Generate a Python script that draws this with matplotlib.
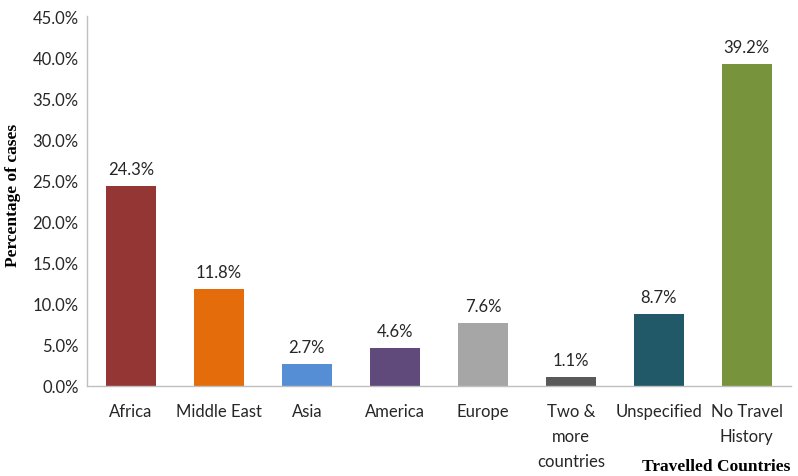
import matplotlib.pyplot as plt
from matplotlib.ticker import PercentFormatter

# data
categories = ["Africa", "Middle East", "Asia", "America", "Europe",
              "Two &\nmore\ncountries", "Unspecified", "No Travel\nHistory"]
values = [24.3, 11.8, 2.7, 4.6, 7.6, 1.1, 8.7, 39.2]
colors = ["#943634", "#E46C0A", "#558ED5", "#604A7B", "#A6A6A6",
          "#595959", "#215968", "#77933C"]

plt.rcParams["font.family"] = ["Lato", "DejaVu Sans"]

fig = plt.figure(figsize=(7.98, 4.77), dpi=100)
ax = fig.add_axes([0.109, 0.189, 0.882, 0.775])

x = range(len(categories))
ax.bar(x, values, width=0.57, color=colors)
for i, v in enumerate(values):
    ax.text(i, v + 1.1, f"{v:.1f}%", ha="center", va="bottom", fontsize=12, color="#262626")

ax.set_xlim(-0.5, len(categories) - 0.5)
ax.set_ylim(0, 45)
ax.set_yticks(range(0, 46, 5))
ax.yaxis.set_major_formatter(PercentFormatter(decimals=1))
ax.set_xticks(list(x))
ax.set_xticklabels(categories, va="top", linespacing=1.7)
ax.tick_params(axis="both", length=0, labelsize=12, colors="#262626")
ax.tick_params(axis="x", pad=12)
ax.tick_params(axis="y", pad=6)

for s in ["top", "right"]:
    ax.spines[s].set_visible(False)
for s in ["left", "bottom"]:
    ax.spines[s].set_color("#BFBFBF")
    ax.spines[s].set_linewidth(1.0)

fig.text(0.016, 0.59, "Percentage of cases", rotation=90, ha="center", va="center",
         fontsize=12.5, fontweight="bold", family="Liberation Serif")
fig.text(0.99, 0.005, "Travelled Countries", ha="right", va="bottom",
         fontsize=12.5, fontweight="bold", family="Liberation Serif")

fig.savefig("out.png", dpi=100)
